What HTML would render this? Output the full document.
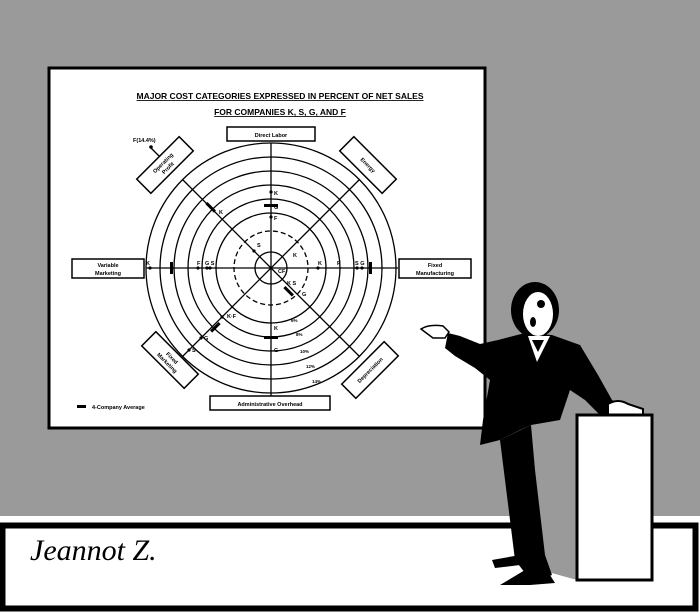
<!DOCTYPE html>
<html><head><style>
html,body{margin:0;padding:0;background:#999}
svg{display:block}
text{font-family:"Liberation Sans",sans-serif;font-weight:bold}
text.sig{font-family:"Liberation Serif",serif;font-style:italic;font-weight:normal}
</style></head><body>
<svg width="700" height="613" viewBox="0 0 700 613" xmlns="http://www.w3.org/2000/svg">
<rect x="0" y="0" width="700" height="613" fill="#9a9a9a"/>
<rect x="49" y="68" width="436" height="360" fill="#fff" stroke="#000" stroke-width="3"/>
<text x="280" y="99" font-size="8.5" text-anchor="middle" text-decoration="underline">MAJOR COST CATEGORIES EXPRESSED IN PERCENT OF NET SALES</text>
<text x="280" y="115" font-size="8.5" text-anchor="middle" text-decoration="underline">FOR COMPANIES K, S, G, AND F</text>
<g fill="none" stroke="#000" stroke-width="1.3">
<circle cx="271" cy="268" r="125"/>
<circle cx="271" cy="268" r="111"/>
<circle cx="271" cy="268" r="97"/>
<circle cx="271" cy="268" r="83"/>
<circle cx="271" cy="268" r="69"/>
<circle cx="271" cy="268" r="55"/>
<circle cx="271" cy="268" r="37" stroke-dasharray="5 3"/>
<circle cx="271" cy="268" r="16"/>
<line x1="271" y1="143" x2="271" y2="400"/>
<line x1="146" y1="268" x2="398" y2="268"/>
<line x1="183" y1="180" x2="359" y2="356"/>
<line x1="359" y1="180" x2="183" y2="356"/>
<line x1="151" y1="148" x2="163" y2="160"/>
</g>
<circle cx="151" cy="147" r="1.8"/>
<text x="133" y="142" font-size="5.5">F(14.4%)</text>
<g fill="#fff" stroke="#000" stroke-width="1.5">
<rect x="227" y="127" width="88" height="14"/>
<rect x="210" y="396" width="120" height="14"/>
<rect x="72" y="259" width="72" height="19"/>
<rect x="399" y="259" width="72" height="19"/>
<rect x="-30" y="-10" width="60" height="20" transform="translate(165 165) rotate(-45)"/>
<rect x="-30" y="-10" width="60" height="20" transform="translate(368 165) rotate(45)"/>
<rect x="-30" y="-10" width="60" height="20" transform="translate(170 360) rotate(45)"/>
<rect x="-30" y="-10" width="60" height="20" transform="translate(370 370) rotate(-45)"/>
</g>
<g font-size="5.5" text-anchor="middle">
<text x="271" y="137">Direct Labor</text>
<text x="270" y="406">Administrative Overhead</text>
<text x="108" y="267">Variable</text><text x="108" y="275">Marketing</text>
<text x="435" y="267">Fixed</text><text x="435" y="275">Manufacturing</text>
<g transform="translate(165 165) rotate(-45)"><text y="-1">Operating</text><text y="6">Profit</text></g>
<g transform="translate(368 165) rotate(45)"><text y="2">Energy</text></g>
<g transform="translate(170 360) rotate(45)"><text y="-1">Fixed</text><text y="6">Marketing</text></g>
<g transform="translate(370 370) rotate(-45)"><text y="2">Depreciation</text></g>
</g>
<g font-size="5.5">
<text x="274" y="195">K</text><text x="274" y="209">G</text><text x="274" y="220">F</text>
<text x="146" y="265">K</text><text x="197" y="265">F</text><text x="205" y="265">G S</text>
<text x="318" y="265">K</text><text x="337" y="265">F</text><text x="355" y="265">S G</text>
<text x="257" y="247">S</text><text x="293" y="257">K</text><text x="278" y="273">CF</text>
<text x="287" y="285">K S</text><text x="302" y="296">G</text>
<text x="227" y="318">K·F</text><text x="204" y="340">G</text><text x="192" y="352">S</text>
<text x="274" y="330">K</text><text x="274" y="352">G</text><text x="219" y="214">K</text>
<text x="291" y="322" font-size="4.5">6%</text><text x="296" y="336" font-size="4.5">8%</text>
<text x="300" y="353" font-size="4.5">10%</text><text x="306" y="368" font-size="4.5">12%</text>
<text x="312" y="383" font-size="4.5">14%</text>
<text x="92" y="409">4-Company Average</text>
</g>
<g fill="#000">
<rect x="77" y="405" width="9" height="3"/>
<rect x="264" y="204" width="14" height="3"/><rect x="170" y="262" width="3" height="12"/>
<rect x="369" y="262" width="3" height="12"/><rect x="264" y="336" width="14" height="3"/>
<rect x="205" y="206" width="12" height="3" transform="rotate(45 211 207)"/>
<rect x="283" y="290" width="12" height="3" transform="rotate(45 289 291)"/>
<rect x="209" y="326" width="12" height="3" transform="rotate(-45 215 327)"/>
<circle cx="271" cy="192" r="1.6"/><circle cx="271" cy="217" r="1.6"/>
<circle cx="150" cy="268" r="1.6"/><circle cx="198" cy="268" r="1.6"/><circle cx="207" cy="268" r="1.6"/><circle cx="210" cy="268" r="1.6"/>
<circle cx="318" cy="268" r="1.6"/><circle cx="357" cy="268" r="1.6"/><circle cx="362" cy="268" r="1.6"/>
<circle cx="254" cy="251" r="1.6"/><circle cx="222" cy="317" r="1.6"/><circle cx="201" cy="338" r="1.6"/><circle cx="189" cy="350" r="1.6"/>
</g>
<!-- floor band -->
<rect x="0" y="516" width="700" height="97" fill="#fff"/>
<rect x="2.5" y="525.5" width="693" height="83" fill="#fff" stroke="#000" stroke-width="6"/>
<text class="sig" x="30" y="560" font-size="30">Jeannot Z.</text>
<!-- podium side -->
<polygon points="531,424 577,418 577,580 548,572 522,470" fill="#9a9a9a"/>
<!-- person -->
<g fill="#000">
<!-- arm + torso + jacket -->
<polygon points="448,333 460,336 480,344 498,340 525,333 552,335 580,345 598,375 612,400 622,405 615,415 600,415 585,400 570,390 560,420 531,425 520,430 500,440 480,445 483,420 490,380 475,368 455,356 445,348"/>
<!-- legs -->
<polygon points="500,440 531,425 535,470 545,555 552,575 532,582 515,560 510,520 505,480"/>
<polygon points="492,560 520,555 520,565 495,568"/>
<polygon points="500,585 525,570 550,575 555,583 530,585"/>
<!-- head -->
<ellipse cx="535" cy="310" rx="24" ry="28"/>
</g>
<ellipse cx="538" cy="314" rx="15" ry="22" fill="#fff"/>
<ellipse cx="541" cy="304" rx="4" ry="4"/>
<ellipse cx="533" cy="322" rx="3" ry="5"/>
<polygon points="528,336 550,336 537,362" fill="#fff"/>
<polygon points="532,340 544,340 538,352" fill="#000"/>
<path d="M608,404 q10,-6 20,0 l15,5 v6 h-35 z" fill="#fff" stroke="#000" stroke-width="2"/>
<path d="M421,329 q8,-5 22,-3 l6,6 l-4,6 l-12,0 z" fill="#fff" stroke="#000" stroke-width="1.5"/>
<rect x="577" y="415" width="75" height="165" fill="#fff" stroke="#000" stroke-width="3"/>
</svg>
</body></html>
